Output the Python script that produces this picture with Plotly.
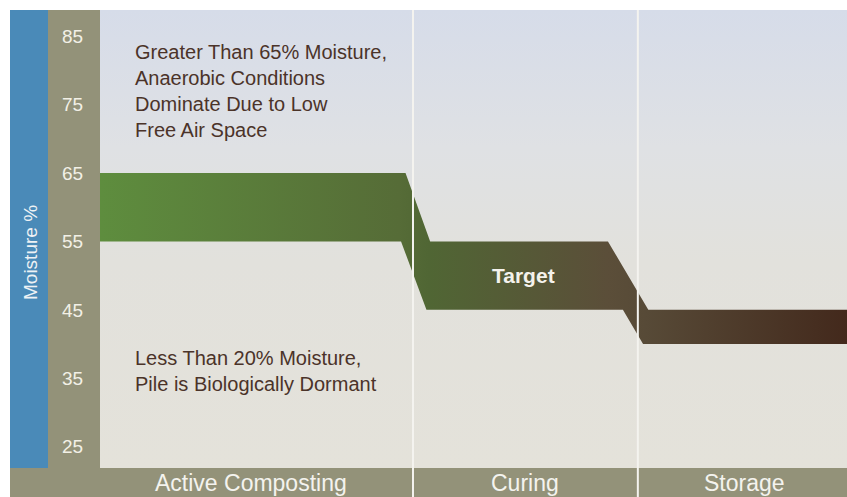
import plotly.graph_objects as go

# ---- data ----
stage_names = ["Active Composting", "Curing", "Storage"]
stage_edges = [0, 41.9, 72.0, 100]          # process position (% of process)
y_ticks = [25, 35, 45, 55, 65, 75, 85]       # moisture %
y_range = [21.9, 88.8]

band_top_x = [0, 40.9, 44.2, 68.0, 73.4, 100]
band_top_y = [65, 65, 55, 55, 45, 45]
band_bot_x = [0, 40.3, 43.7, 70.0, 72.7, 100]
band_bot_y = [55, 55, 45, 45, 40, 40]

upper_note = "Greater Than 65% Moisture,<br>Anaerobic Conditions<br>Dominate Due to Low<br>Free Air Space"
lower_note = "Less Than 20% Moisture,<br>Pile is Biologically Dormant"
target_label = "Target"

# ---- layout geometry ----
W, H = 847, 497
x_dom = [100 / W, 1.0]
y_dom = [29 / H, 487 / H]
FONT = "Liberation Sans, Arial, sans-serif"

def x_to_paper(v):
    return x_dom[0] + (v - stage_edges[0]) / (stage_edges[-1] - stage_edges[0]) * (x_dom[1] - x_dom[0])

fig = go.Figure()

# plot background gradient
fig.add_trace(go.Scatter(
    x=[stage_edges[0], stage_edges[-1], stage_edges[-1], stage_edges[0], stage_edges[0]],
    y=[y_range[0], y_range[0], y_range[1], y_range[1], y_range[0]],
    mode="lines", line=dict(width=0), fill="toself",
    fillgradient=dict(type="vertical", start=y_range[0], stop=y_range[1],
                      colorscale=[[0, "#e4e2da"], [0.45, "#e2e1dc"], [0.7, "#dfe1e4"], [1, "#d6dce9"]]),
    hoverinfo="skip", showlegend=False))

# moisture band
bx = band_top_x + band_bot_x[::-1] + [band_top_x[0]]
by = band_top_y + band_bot_y[::-1] + [band_top_y[0]]
fig.add_trace(go.Scatter(
    x=bx, y=by, mode="lines", line=dict(width=0), fill="toself",
    fillgradient=dict(type="horizontal", start=stage_edges[0], stop=stage_edges[-1],
                      colorscale=[[0, "#5e8d3e"], [0.40, "#566c37"], [0.44, "#506634"],
                                  [0.68, "#5b4e39"], [0.73, "#574a37"], [1, "#43291c"]]),
    hoverinfo="skip", showlegend=False))

shapes = [
    dict(type="rect", xref="paper", yref="paper", x0=10 / W, x1=48 / W, y0=y_dom[0], y1=y_dom[1],
         fillcolor="#4a8ab8", line=dict(width=0), layer="below"),
    dict(type="rect", xref="paper", yref="paper", x0=48 / W, x1=x_dom[0], y0=y_dom[0], y1=y_dom[1],
         fillcolor="#939279", line=dict(width=0), layer="below"),
    dict(type="rect", xref="paper", yref="paper", x0=10 / W, x1=1, y0=0, y1=y_dom[0],
         fillcolor="#939279", line=dict(width=0), layer="below"),
]
for e in stage_edges[1:-1]:
    px = x_to_paper(e)
    shapes.append(dict(type="line", xref="paper", yref="paper", x0=px, x1=px, y0=0, y1=y_dom[1],
                       line=dict(color="#f4f3ef", width=2), layer="above"))

annotations = [
    dict(text=upper_note, x=4.4, y=77.0, xref="x", yref="y", xanchor="left", yanchor="middle",
         align="left", showarrow=False, font=dict(family=FONT, size=20, color="#4b3329")),
    dict(text=lower_note, x=4.4, y=36.0, xref="x", yref="y", xanchor="left", yanchor="middle",
         align="left", showarrow=False, font=dict(family=FONT, size=20, color="#4b3329")),
    dict(text="<b>" + target_label + "</b>", x=56.7, y=50.0, xref="x", yref="y", showarrow=False,
         font=dict(family=FONT, size=21, color="#f4f2ec")),
    dict(text="Moisture %", x=30 / W, y=1 - 253 / H, xref="paper", yref="paper", textangle=-90,
         xanchor="center", yanchor="middle",
         showarrow=False, font=dict(family=FONT, size=19, color="#eef2f5")),
]
label_shift = [-6, 0, 2]
for i, name in enumerate(stage_names):
    mid = (stage_edges[i] + stage_edges[i + 1]) / 2
    annotations.append(dict(text=name, x=mid, y=1 - 483 / H, xref="x", yref="paper",
                            showarrow=False, xanchor="center", yanchor="middle", xshift=label_shift[i],
                            font=dict(family=FONT, size=23, color="#f4f3ee")))

fig.update_layout(
    width=W, height=H, margin=dict(l=0, r=0, t=0, b=0),
    paper_bgcolor="white", plot_bgcolor="rgba(0,0,0,0)",
    shapes=shapes, annotations=annotations, showlegend=False,
    xaxis=dict(domain=x_dom, range=[stage_edges[0], stage_edges[-1]], visible=False, fixedrange=True),
    yaxis=dict(domain=y_dom, range=y_range, tickvals=y_ticks, ticktext=[str(t) for t in y_ticks],
               showgrid=False, zeroline=False, showline=False, ticks="outside", ticklen=12,
               tickcolor="rgba(0,0,0,0)", tickfont=dict(family=FONT, size=19, color="#f2f0e6"),
               fixedrange=True),
)

fig.write_html("out.html", config={"displayModeBar": False},
               post_script="document.body.style.margin='0';document.body.style.overflow='hidden';")
